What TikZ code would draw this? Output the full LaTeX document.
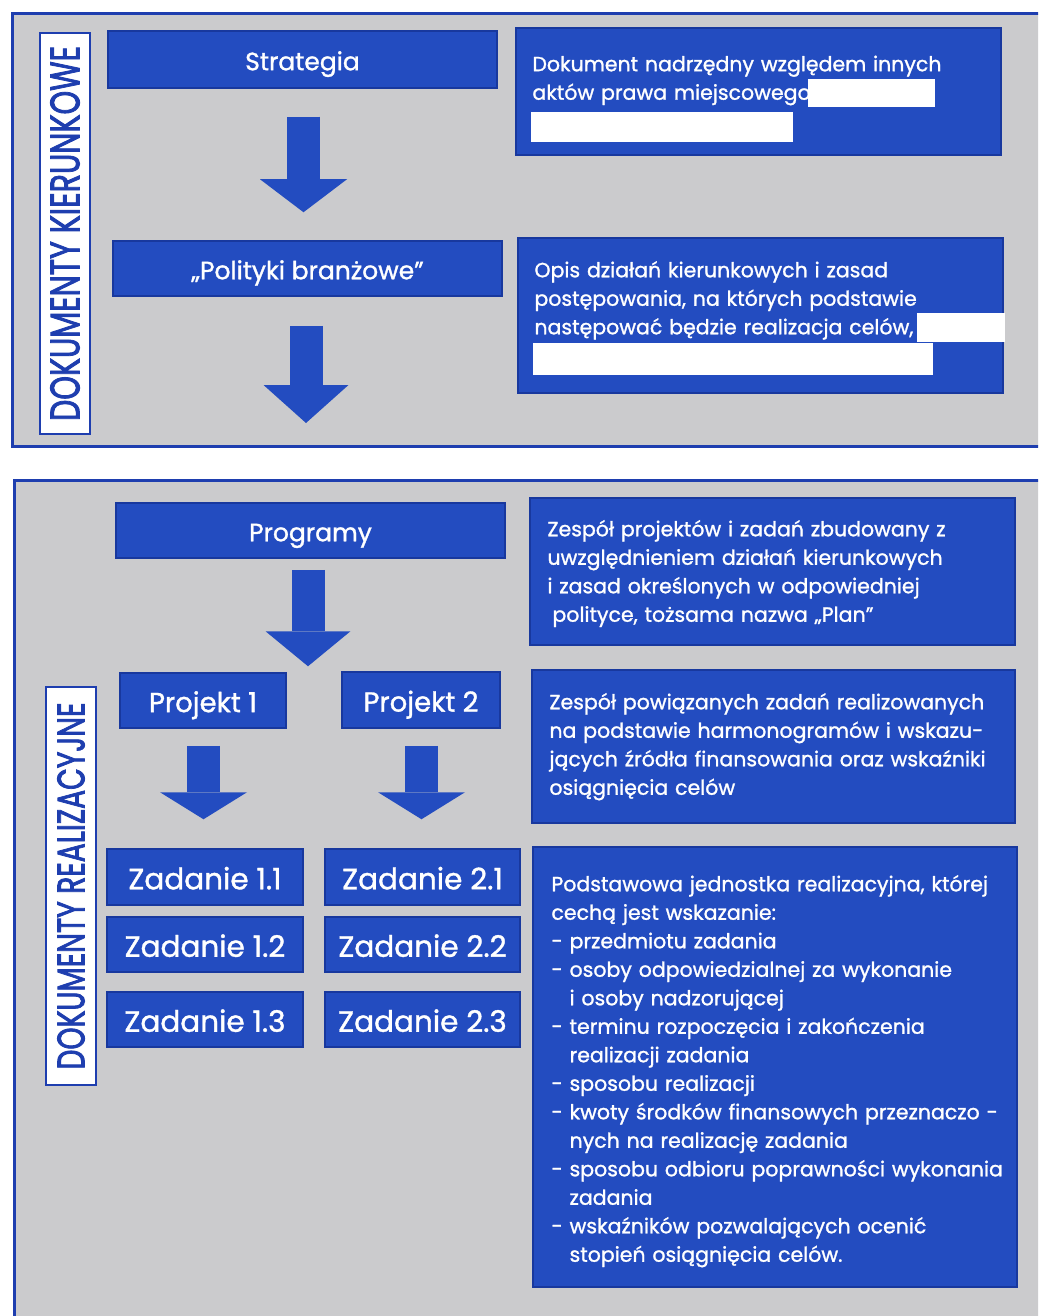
\documentclass[tikz,border=0pt]{standalone}
\usepackage{fontspec}
\usepackage{graphicx}
\setmainfont{Poppins}
\newfontfamily\medfont{Poppins}[FakeBold=1.2]
\newfontfamily\labfont{Poppins}[FakeBold=2.5]
\usetikzlibrary{arrows.meta,calc}
\definecolor{boxblue}{RGB}{35,76,192}
\definecolor{edgeblue}{RGB}{24,56,158}
\definecolor{panelgray}{RGB}{203,203,205}
\definecolor{lineblue}{RGB}{30,62,175}
\begin{document}
\begin{tikzpicture}[x=1pt,y=-1pt,
  panel/.style={fill=panelgray, draw=lineblue, line width=3pt},
  sidelabel/.style={fill=white, draw=lineblue, line width=2.5pt, inner sep=0pt},
  bluebox/.style={fill=boxblue, draw=edgeblue, line width=1.5pt, text=white, inner sep=0pt},
  titlebox/.style={bluebox, font=\medfont\fontsize{25}{30}\selectfont, text height=21.5pt, text depth=0pt},
  projbox/.style={bluebox, font=\medfont\fontsize{27.5}{30}\selectfont, text height=23.2pt, text depth=0pt},
  taskbox/.style={bluebox, font=\medfont\fontsize{29.5}{32}\selectfont, text height=24.6pt, text depth=0pt},
  desctext/.style={text=white, anchor=base west, inner sep=0pt, align=left, text width=540pt, font=\medfont\fontsize{20.5}{28.5}\selectfont},
  labeltext/.style={rotate=90, text=lineblue, inner sep=0pt, font=\labfont},
  blockarrow/.style={draw=boxblue, line width=33pt},
  redact/.style={fill=white}
]
\useasboundingbox (0,0) rectangle (1038,1316);
\clip (0,0) rectangle (1038,1316);
\fill[white] (0,0) rectangle (1038,1316);

% panels
\draw[panel] (12,14) rectangle (1060,446);
\draw[panel] (14,480) rectangle (1060,1340);

% side labels
\node[sidelabel, minimum width=50pt, minimum height=401pt] (lab1) at (65,233.5) {};
\node[labeltext] (lab1t) at (lab1.center) {\resizebox{375pt}{29pt}{DOKUMENTY KIERUNKOWE}};
\node[sidelabel, minimum width=50pt, minimum height=398pt] (lab2) at (71,886) {};
\node[labeltext] (lab2t) at (lab2.center) {\resizebox{367pt}{27pt}{DOKUMENTY REALIZACYJNE}};

% left boxes, top panel
\node[titlebox, minimum width=389pt, minimum height=57pt] (strat) at (302.5,59.5) {Strategia};
\node[titlebox, minimum width=389pt, minimum height=55pt] (pol) at (307.5,268.5) {„Polityki branżowe”};

% left boxes, bottom panel
\node[titlebox, minimum width=389pt, minimum height=55pt] (prog) at (310.5,530.5) {Programy};
\node[projbox, minimum width=166pt, minimum height=55pt] (p1) at (203,700.5) {Projekt 1};
\node[projbox, minimum width=158pt, minimum height=56pt] (p2) at (421,700) {Projekt 2};
\node[taskbox, minimum width=196pt, minimum height=56pt] (z11) at (205,877) {Zadanie 1.1};
\node[taskbox, minimum width=196pt, minimum height=55pt] (z12) at (205,944.5) {Zadanie 1.2};
\node[taskbox, minimum width=196pt, minimum height=55pt] (z13) at (205,1019.5) {Zadanie 1.3};
\node[taskbox, minimum width=195pt, minimum height=56pt] (z21) at (422.5,877) {Zadanie 2.1};
\node[taskbox, minimum width=195pt, minimum height=55pt] (z22) at (422.5,944.5) {Zadanie 2.2};
\node[taskbox, minimum width=195pt, minimum height=55pt] (z23) at (422.5,1019.5) {Zadanie 2.3};

% description boxes
\node[bluebox, minimum width=485pt, minimum height=127pt] (d1) at (758.5,91.5) {};
\node[bluebox, minimum width=485pt, minimum height=155pt] (d2) at (760.5,315.5) {};
\node[bluebox, minimum width=485pt, minimum height=147pt] (dA) at (772.5,571.5) {};
\node[bluebox, minimum width=483pt, minimum height=153pt] (dB) at (773.5,746.5) {};
\node[bluebox, minimum width=484pt, minimum height=440pt] (dC) at (775,1067) {};

\node[desctext] (t1) at ($(d1.north west)+(17,44)$) {Dokument nadrzędny względem innych\\aktów prawa miejscowego};
\node[desctext] (t2) at ($(d2.north west)+(17,40)$) {Opis działań kierunkowych i zasad\\postępowania, na których podstawie\\następować będzie realizacja celów,};
\node[desctext] (tA) at ($(dA.north west)+(18,39)$) {Zespół projektów i zadań zbudowany z\\uwzględnieniem działań kierunkowych\\i zasad określonych w odpowiedniej\\\hspace*{5pt}polityce, tożsama nazwa „Plan”};
\node[desctext] (tB) at ($(dB.north west)+(18,40)$) {Zespół powiązanych zadań realizowanych\\na podstawie harmonogramów i wskazu-\\jących źródła finansowania oraz wskaźniki\\osiągnięcia celów};
\node[desctext] (tC) at ($(dC.north west)+(19,45)$) {Podstawowa jednostka realizacyjna, której\\cechą jest wskazanie:\\- przedmiotu zadania\\- osoby odpowiedzialnej za wykonanie\\\phantom{-\ }i osoby nadzorującej\\- terminu rozpoczęcia i zakończenia\\\phantom{-\ }realizacji zadania\\- sposobu realizacji\\- kwoty środków finansowych przeznaczo -\\\phantom{-\ }nych na realizację zadania\\- sposobu odbioru poprawności wykonania\\\phantom{-\ }zadania\\- wskaźników pozwalających ocenić\\\phantom{-\ }stopień osiągnięcia celów.};

% redactions
\fill[redact] (808,79) rectangle (935,107);
\fill[redact] (531,112) rectangle (793,142);
\fill[redact] (917,313) rectangle (1005,342);
\fill[redact] (533,343) rectangle (933,375);

% block arrows
\coordinate (a1s) at ($(strat.south)+(1,28)$);
\draw[blockarrow, -{Triangle[width=87pt,length=33pt,line width=0pt]}] (a1s) -- ($(a1s |- pol.north)+(0,-28)$);
\coordinate (a2s) at ($(pol.south)+(-1.5,29)$);
\coordinate (a2e) at (306,423);
\draw[blockarrow, -{Triangle[width=85pt,length=38pt,line width=0pt]}] (a2s) -- (a2s |- a2e);
\coordinate (a3s) at ($(prog.south)+(-2.5,11)$);
\draw[blockarrow, -{Triangle[width=85pt,length=35pt,line width=0pt]}] (a3s) -- ($(a3s |- p1.north)+(0,-6)$);
\coordinate (a4s) at ($(p1.south)+(0.5,17)$);
\draw[blockarrow, -{Triangle[width=87pt,length=27pt,line width=0pt]}] (a4s) -- ($(a4s |- z11.north)+(0,-29)$);
\coordinate (a5s) at ($(p2.south)+(0.5,17)$);
\draw[blockarrow, -{Triangle[width=87pt,length=27pt,line width=0pt]}] (a5s) -- ($(a5s |- z21.north)+(0,-29)$);
\end{tikzpicture}
\end{document}
